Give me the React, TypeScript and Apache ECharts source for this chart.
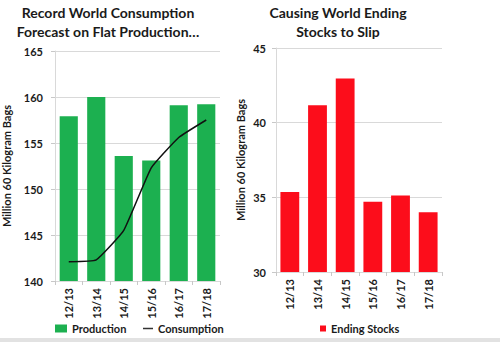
import React, { useEffect, useRef } from 'react';
import * as echarts from 'echarts';

const seasons = ['12/13', '13/14', '14/15', '15/16', '16/17', '17/18'];
const production = [157.9, 160.0, 153.6, 153.1, 159.1, 159.2];
const consumption = [142.1, 142.3, 145.5, 152.3, 155.6, 157.5];
const endingStocks = [35.36, 41.16, 42.95, 34.71, 35.13, 34.0];

const leftTitle = 'Record World Consumption\nForecast on Flat Production…';
const rightTitle = 'Causing World Ending\nStocks to Slip';
const axisName = 'Million 60 Kilogram Bags';

const FONT = 'Lato, "Open Sans", sans-serif';
const GREEN = '#1cb050';
const RED = '#fc0d1b';
const GRID_LINE = '#d9d9d9';
const TEXT = '#1a1a1a';

export default function App() {
  const ref = useRef<HTMLDivElement>(null);
  useEffect(() => {
    if (!ref.current) return;
    const chart = echarts.init(ref.current, null, { renderer: 'svg' });
    const labelStyle = { fontFamily: FONT, fontWeight: 'bold' as const, fontSize: 11, color: TEXT };
    const xAxisBase = {
      type: 'category' as const,
      data: seasons,
      boundaryGap: true,
      axisLine: { show: true, lineStyle: { color: GRID_LINE } },
      axisTick: { show: true, length: 4, lineStyle: { color: '#c8c8c8' } },
      axisLabel: { ...labelStyle, rotate: 90, margin: 7 },
    };
    const yAxisBase = {
      type: 'value' as const,
      nameLocation: 'middle' as const,
      name: axisName,
      nameTextStyle: { ...labelStyle },
      axisLine: { show: true, lineStyle: { color: GRID_LINE } },
      axisTick: { show: true, length: 4, lineStyle: { color: '#c8c8c8' } },
      splitLine: { show: true, lineStyle: { color: GRID_LINE } },
      axisLabel: { ...labelStyle },
    };
    const legendText = { ...labelStyle, fontSize: 11 };
    chart.setOption({
      animation: false,
      backgroundColor: '#ffffff',
      grid: [
        { left: 48, right: 280, top: 51, bottom: 61 },
        { left: 276, right: 58, top: 48, bottom: 70 },
      ],
      xAxis: [
        { ...xAxisBase, gridIndex: 0 },
        { ...xAxisBase, gridIndex: 1 },
      ],
      yAxis: [
        { ...yAxisBase, gridIndex: 0, min: 140, max: 165, interval: 5, nameGap: 43, axisLabel: { ...labelStyle, margin: 12 } },
        { ...yAxisBase, gridIndex: 1, min: 30, max: 45, interval: 5, nameGap: 30, axisLabel: { ...labelStyle, margin: 10 } },
      ],
      legend: [
        {
          left: 50,
          top: 318,
          itemWidth: 12,
          itemHeight: 8,
          textStyle: legendText,
          data: [{ name: 'Production', icon: 'rect' }],
        },
        {
          left: 138,
          top: 318,
          itemWidth: 10,
          itemHeight: 1.5,
          textStyle: legendText,
          data: [{ name: 'Consumption', icon: 'rect', itemStyle: { color: '#333333' } }],
        },
        {
          left: 315,
          top: 318,
          itemWidth: 6,
          itemHeight: 6,
          textStyle: legendText,
          data: [{ name: 'Ending Stocks', icon: 'rect' }],
        },
      ],
      series: [
        {
          name: 'Production',
          type: 'bar',
          xAxisIndex: 0,
          yAxisIndex: 0,
          data: production,
          barCategoryGap: '34%',
          itemStyle: { color: GREEN },
        },
        {
          name: 'Consumption',
          type: 'line',
          xAxisIndex: 0,
          yAxisIndex: 0,
          data: consumption,
          smooth: 0.12,
          symbol: 'none',
          lineStyle: { color: '#111111', width: 1.5 },
          itemStyle: { color: '#111111' },
          z: 5,
        },
        {
          name: 'Ending Stocks',
          type: 'bar',
          xAxisIndex: 1,
          yAxisIndex: 1,
          data: endingStocks,
          barCategoryGap: '32%',
          itemStyle: { color: RED },
        },
      ],
      graphic: [
        {
          type: 'text',
          x: 108,
          y: 3,
          style: {
            text: leftTitle,
            textAlign: 'center',
            textVerticalAlign: 'top',
            fontFamily: FONT,
            fontWeight: 'bold',
            fontSize: 14,
            lineHeight: 19,
            fill: TEXT,
          },
        },
        {
          type: 'text',
          x: 338,
          y: 3,
          style: {
            text: rightTitle,
            textAlign: 'center',
            textVerticalAlign: 'top',
            fontFamily: FONT,
            fontWeight: 'bold',
            fontSize: 14,
            lineHeight: 19,
            fill: TEXT,
          },
        },
        {
          type: 'rect',
          shape: { x: 0, y: 338, width: 500, height: 4 },
          style: { fill: '#e2e2e2' },
          silent: true,
        },
      ],
    });
    return () => chart.dispose();
  }, []);
  return (
    <div
      ref={ref}
      style={{ position: 'fixed', left: 0, top: 0, width: 500, height: 342, background: '#fff' }}
    />
  );
}
